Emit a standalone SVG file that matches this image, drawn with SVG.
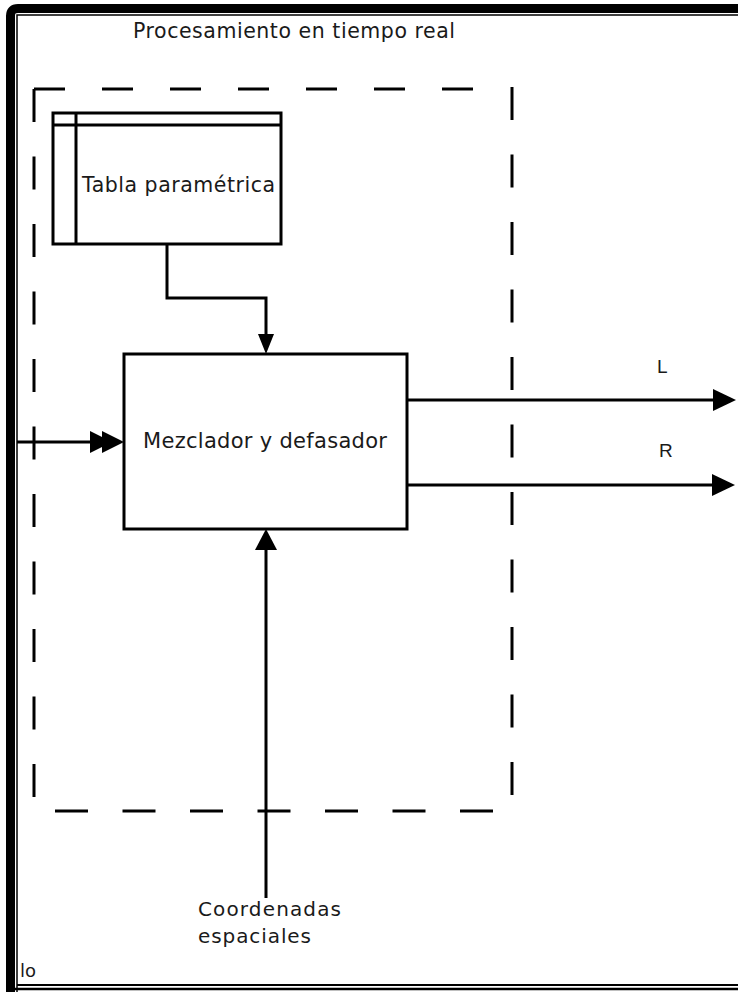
<svg xmlns="http://www.w3.org/2000/svg" width="738" height="992" viewBox="0 0 738 992">
<defs>
<style>
.t{font-family:"DejaVu Sans","Liberation Sans",sans-serif;fill:#1a1a1a}
.s{font-family:"Liberation Sans","DejaVu Sans",sans-serif;fill:#1a1a1a}
.box{fill:#fff;stroke:#000;stroke-width:3}
.ln{fill:none;stroke:#000;stroke-width:3}
.dash{fill:none;stroke:#000;stroke-width:3}
</style>
</defs>
<rect width="738" height="992" fill="#fff"/>
<g id="frame">
<path d="M10.5,992 V16 Q10.5,8.5 18,8.5 H738" fill="none" stroke="#000" stroke-width="9"/>
<path d="M17,992 V15 H738" fill="none" stroke="#000" stroke-width="1.5"/>
<line x1="17" y1="985" x2="738" y2="985" stroke="#000" stroke-width="2"/>
<line x1="14" y1="989" x2="738" y2="989" stroke="#000" stroke-width="2.5"/>
</g>
<g id="group-realtime">
<line class="dash" x1="34" y1="89" x2="480" y2="89" stroke-dasharray="31 37"/>
<line class="dash" x1="34" y1="89" x2="34" y2="811" stroke-dasharray="33 34.5"/>
<line class="dash" x1="512" y1="87" x2="512" y2="811" stroke-dasharray="33 34.5"/>
<line class="dash" x1="55" y1="811" x2="512" y2="811" stroke-dasharray="33 34.5"/>
<text class="t" x="133" y="38" font-size="20.5" textLength="322" lengthAdjust="spacing">Procesamiento en tiempo real</text>
</g>
<g id="tabla">
<rect class="box" x="53" y="113" width="228" height="131"/>
<line class="ln" x1="76" y1="113" x2="76" y2="244"/>
<line class="ln" x1="53" y1="125" x2="281" y2="125"/>
<text class="t" x="82" y="192" font-size="20.5" textLength="193" lengthAdjust="spacing">Tabla paramétrica</text>
</g>
<g id="mezclador">
<rect class="box" x="124" y="354" width="283" height="175"/>
<text class="t" x="143" y="448" font-size="21" textLength="244" lengthAdjust="spacing">Mezclador y defasador</text>
</g>
<g id="connectors">
<path class="ln" d="M167,244 V298 H266 V336"/>
<path d="M258,334 L274,334 L266,354 z" fill="#000"/>
<line class="ln" x1="17" y1="442" x2="100" y2="442"/>
<path d="M90,431 L112,442 L90,453 z" fill="#000"/>
<path d="M102,431 L124,442 L102,453 z" fill="#000"/>
<line class="ln" x1="407" y1="400" x2="716" y2="400"/>
<path d="M713,389 L736,400 L713,411 z" fill="#000"/>
<line class="ln" x1="407" y1="485" x2="715" y2="485"/>
<path d="M712,474 L735,485 L712,496 z" fill="#000"/>
<line class="ln" x1="266" y1="898" x2="266" y2="548"/>
<path d="M255,550 L277,550 L266,529 z" fill="#000"/>
</g>
<g id="labels">
<text class="s" x="657" y="373" font-size="19">L</text>
<text class="s" x="659" y="457" font-size="19">R</text>
<text class="t" x="198" y="916" font-size="20" textLength="143" lengthAdjust="spacing">Coordenadas</text>
<text class="t" x="198" y="943" font-size="20" textLength="113" lengthAdjust="spacing">espaciales</text>
<text class="t" x="20" y="977" font-size="18">lo</text>
</g>
</svg>
